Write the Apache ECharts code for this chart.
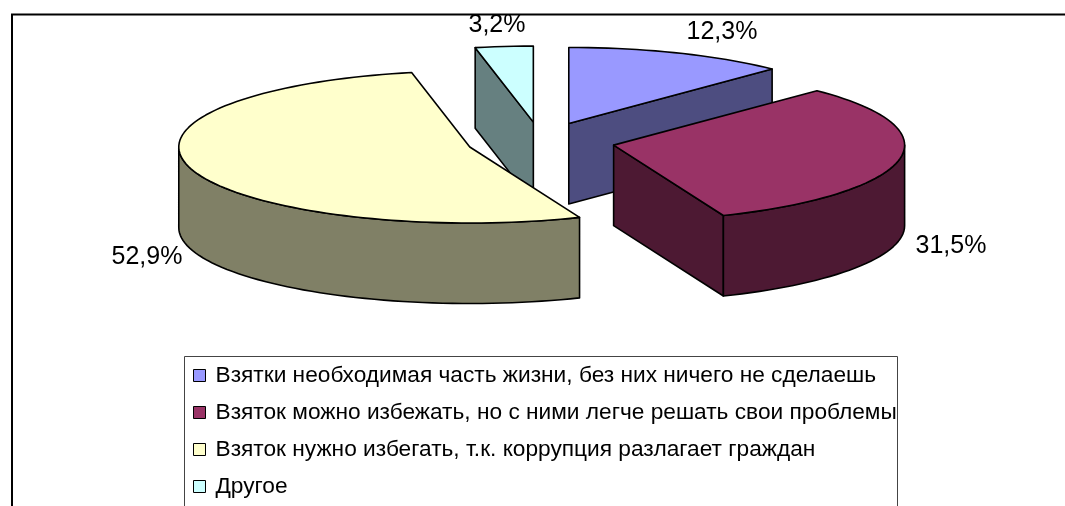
<!DOCTYPE html>
<html><head><meta charset="utf-8">
<style>html,body{margin:0;padding:0;background:#fff}#c{width:1065px;height:506px}</style>
<script src="https://cdn.jsdelivr.net/npm/echarts@6/dist/echarts.min.js"></script>
</head><body><div id="c"></div>
<script>
const categories = [
  'Взятки необходимая часть жизни, без них ничего не сделаешь',
  'Взяток можно избежать, но с ними легче решать свои проблемы',
  'Взяток нужно избегать, т.к. коррупция разлагает граждан',
  'Другое'
];
const shares = [12.3, 31.5, 52.9, 3.2];
const topColors = ['#9999FF', '#993366', '#FFFFCC', '#CCFFFF'];
const sideColors = ['#4D4D80', '#4D1933', '#808066', '#668080'];
const labelCenters = [[722, 32], [951, 246], [147, 257], [497, 25]];
const paintOrder = [3, 0, 2, 1];

const CX = 540.8, CY = 141.4, RX = 291, RY = 76, DEPTH = 80.5, EXPLODE = 0.255;
const LINE = { stroke: '#000', lineWidth: 1.6, lineJoin: 'round' };
const total = shares.reduce((a, b) => a + b, 0);
const rad = d => d * Math.PI / 180;

function sliceAngles(i) {
  let before = 0;
  for (let k = 0; k < i; k++) before += shares[k];
  return [before / total * 360, (before + shares[i]) / total * 360];
}
function arc(ax, ay, from, to) {
  const pts = [], n = Math.max(2, Math.ceil((to - from) / 2));
  for (let k = 0; k <= n; k++) {
    const t = rad(from + (to - from) * k / n);
    pts.push([ax + RX * Math.sin(t), ay - RY * Math.cos(t)]);
  }
  return pts;
}
function poly(points, fill) {
  return { type: 'polygon', shape: { points }, style: Object.assign({ fill }, LINE) };
}
function renderSlice(i) {
  const [a0, a1] = sliceAngles(i);
  const mid = rad((a0 + a1) / 2);
  const ax = CX + EXPLODE * RX * Math.sin(mid);
  const ay = CY - EXPLODE * RY * Math.cos(mid);
  const down = p => [p[0], p[1] + DEPTH];
  const kids = [];
  const apex = [ax, ay];
  const cutFace = ang => {
    const rim = arc(ax, ay, ang, ang)[0];
    return poly([apex, rim, down(rim), down(apex)], sideColors[i]);
  };
  if (Math.sin(rad(a0)) < -1e-6) kids.push(cutFace(a0));
  if (Math.sin(rad(a1)) > 1e-6) kids.push(cutFace(a1));
  const w0 = Math.max(a0, 90), w1 = Math.min(a1, 270);
  if (w1 > w0) {
    const rim = arc(ax, ay, w0, w1);
    kids.push(poly(rim.concat(rim.slice().reverse().map(down)), sideColors[i]));
  }
  kids.push(poly([apex].concat(arc(ax, ay, a0, a1)), topColors[i]));
  kids.push({
    type: 'text',
    style: {
      x: labelCenters[i][0], y: labelCenters[i][1],
      text: shares[i].toFixed(1).replace('.', ',') + '%',
      font: '25px "Liberation Sans"', fill: '#000',
      align: 'center', verticalAlign: 'middle'
    }
  });
  return { type: 'group', children: kids };
}

const chart = echarts.init(document.getElementById('c'), null, { renderer: 'canvas' });
chart.setOption({
  animation: false,
  backgroundColor: '#fff',
  graphic: [
    { type: 'polyline', z: 0, shape: { points: [[12, 506], [12, 14.5], [1065, 14.5]] },
      style: { stroke: '#000', lineWidth: 2, fill: null } },
    { type: 'rect', z: 0, shape: { x: 184.5, y: 356.5, width: 713, height: 160 },
      style: { stroke: '#444', lineWidth: 1, fill: '#fff' } }
  ],
  legend: {
    orient: 'vertical', left: 193, top: 364,
    data: categories, padding: 0, icon: 'rect',
    itemWidth: 12, itemHeight: 12, itemGap: 14,
    itemStyle: { borderColor: '#000', borderWidth: 1 },
    selectedMode: false,
    textStyle: { fontFamily: 'Liberation Sans', fontSize: 22.7, lineHeight: 22, color: '#000', padding: [0, 0, 0, 5] }
  },
  series: paintOrder.map(i => ({
    type: 'custom', name: categories[i], coordinateSystem: 'none', silent: true,
    itemStyle: { color: topColors[i] },
    data: [[shares[i]]],
    renderItem: () => renderSlice(i)
  }))
});
</script></body></html>
